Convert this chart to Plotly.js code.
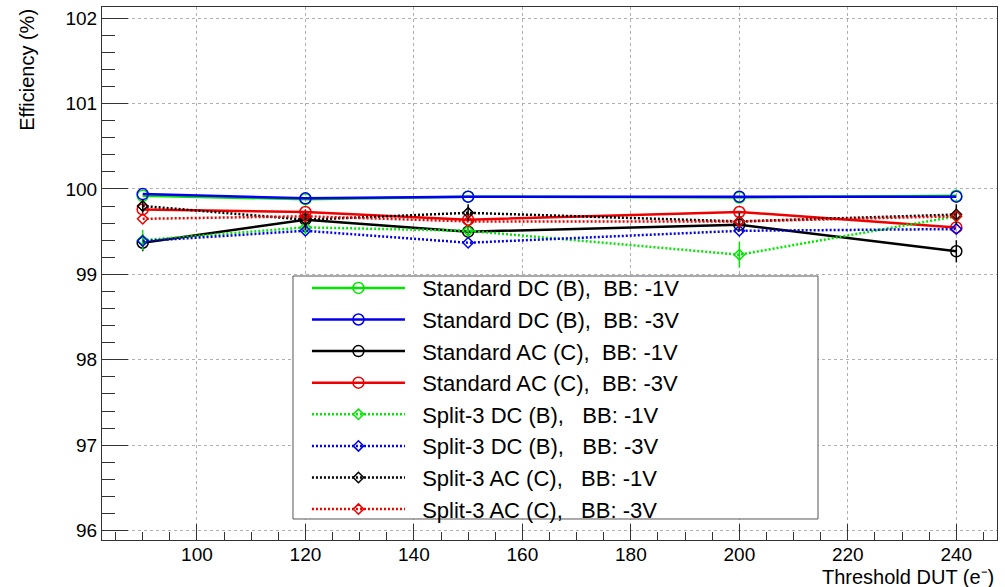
<!DOCTYPE html>
<html>
<head>
<meta charset="utf-8">
<script src="https://cdn.plot.ly/plotly-3.0.1.min.js"></script>
<style>html,body{margin:0;padding:0;background:#fff;}#chart{width:1005px;height:587px;}</style>
</head>
<body>
<div id="chart"></div>
<script>
// ---- data ----
var thresholds = [90, 120, 150, 200, 240];

var stdDcB_1V = [99.92, 99.88, 99.91, 99.90, 99.92];
var stdDcB_3V = [99.94, 99.89, 99.91, 99.91, 99.91];
var stdAcC_1V = [99.37, 99.64, 99.50, 99.58, 99.27];
var stdAcC_3V = [99.76, 99.73, 99.64, 99.73, 99.55];
var splDcB_1V = [99.40, 99.55, 99.51, 99.23, 99.68];
var splDcB_3V = [99.39, 99.51, 99.37, 99.51, 99.53];
var splAcC_1V = [99.80, 99.64, 99.72, 99.62, 99.70];
var splAcC_3V = [99.65, 99.68, 99.62, 99.62, 99.68];

var errStdAcC_1V = [0.10, 0.08, 0.05, 0.06, 0.13];
var errSplDcB_1V = [0.12, 0.08, 0.08, 0.15, 0.10];
var errSplAcC_1V = [0.08, 0.12, 0.10, 0.10, 0.12];

var seriesNames = [
  "\u00a0\u00a0Standard DC (B),\u00a0 BB: -1V",
  "\u00a0\u00a0Standard DC (B),\u00a0 BB: -3V",
  "\u00a0\u00a0Standard AC (C),\u00a0 BB: -1V",
  "\u00a0\u00a0Standard AC (C),\u00a0 BB: -3V",
  "\u00a0\u00a0Split-3 DC (B),\u00a0\u00a0 BB: -1V",
  "\u00a0\u00a0Split-3 DC (B),\u00a0\u00a0 BB: -3V",
  "\u00a0\u00a0Split-3 AC (C),\u00a0\u00a0 BB: -1V",
  "\u00a0\u00a0Split-3 AC (C),\u00a0\u00a0 BB: -3V"
];
var seriesValues = [stdDcB_1V, stdDcB_3V, stdAcC_1V, stdAcC_3V, splDcB_1V, splDcB_3V, splAcC_1V, splAcC_3V];
var seriesErrors = [null, null, errStdAcC_1V, null, errSplDcB_1V, null, errSplAcC_1V, null];
var seriesColors = ["#00e600", "#0000ee", "#000000", "#ee0000", "#00e600", "#0000ee", "#000000", "#ee0000"];
var seriesSolid = [true, true, true, true, false, false, false, false];

var xTitle = "Threshold DUT (e\u207B)";
var yTitle = "Efficiency (%)";

// ---- traces ----
var traces = seriesValues.map(function (vals, i) {
  var solid = seriesSolid[i];
  var t = {
    type: "scatter",
    mode: "lines+markers",
    name: seriesNames[i],
    x: thresholds,
    y: vals,
    line: { color: seriesColors[i], width: 2.5, dash: solid ? "solid" : "2px,2px" },
    marker: {
      symbol: solid ? "circle-open" : "diamond-open",
      size: solid ? 11 : 8,
      color: seriesColors[i],
      line: { width: 1.5, color: seriesColors[i] }
    },
    hoverinfo: "x+y+name"
  };
  if (seriesErrors[i]) {
    t.error_y = { type: "data", array: seriesErrors[i], visible: true, color: seriesColors[i], thickness: 1.5, width: 0 };
  }
  return t;
});

var font = "Liberation Sans, Arial, Helvetica, sans-serif";

var layout = {
  width: 1005,
  height: 587,
  margin: { l: 102, r: 8, t: 7, b: 47, pad: 0 },
  paper_bgcolor: "#ffffff",
  plot_bgcolor: "#ffffff",
  font: { family: font, size: 19, color: "#000" },
  showlegend: true,
  xaxis: {
    range: [82.5, 247.5],
    tick0: 0, dtick: 20,
    ticks: "inside", ticklen: 16, tickwidth: 1, tickcolor: "#333",
    ticklabelstandoff: -3,
    minor: { dtick: 5, ticks: "inside", ticklen: 8, tickcolor: "#333", showgrid: false },
    showgrid: true, gridcolor: "#b0b0b0", griddash: "dot", gridwidth: 1,
    showline: true, linecolor: "#333", linewidth: 1, mirror: true,
    zeroline: false,
    tickfont: { family: font, size: 19, color: "#000" }
  },
  yaxis: {
    range: [95.89, 102.13],
    tick0: 0, dtick: 1,
    ticks: "inside", ticklen: 26, tickwidth: 1, tickcolor: "#333",
    minor: { dtick: 0.2, ticks: "inside", ticklen: 13, tickcolor: "#333", showgrid: false },
    showgrid: true, gridcolor: "#b0b0b0", griddash: "dot", gridwidth: 1,
    showline: true, linecolor: "#333", linewidth: 1, mirror: true,
    zeroline: false,
    tickfont: { family: font, size: 19, color: "#000" }
  },
  legend: {
    x: 0.229, y: 0.512, xanchor: "left", yanchor: "top",
    bgcolor: "rgba(0,0,0,0)", borderwidth: 0,
    font: { family: font, size: 22, color: "#000" },
    itemwidth: 93,
    tracegroupgap: 0
  },
  shapes: [{
    type: "rect", xref: "paper", yref: "paper",
    x0: 0.2134, x1: 0.800, y0: 0.0394, y1: 0.4953,
    fillcolor: "#ffffff", line: { color: "#555", width: 1 }, layer: "above"
  }],
  annotations: [
    { text: xTitle, xref: "paper", yref: "paper", x: 0.998, y: -0.069, xanchor: "right", yanchor: "middle",
      borderpad: 0, showarrow: false, font: { family: font, size: 20, color: "#000" } },
    { text: yTitle, xref: "paper", yref: "paper", x: -0.084, y: 1, xanchor: "center", yanchor: "top",
      textangle: -90, showarrow: false, font: { family: font, size: 20, color: "#000" } }
  ]
};

Plotly.newPlot("chart", traces, layout, { displayModeBar: false, staticPlot: true });
</script>
</body>
</html>
